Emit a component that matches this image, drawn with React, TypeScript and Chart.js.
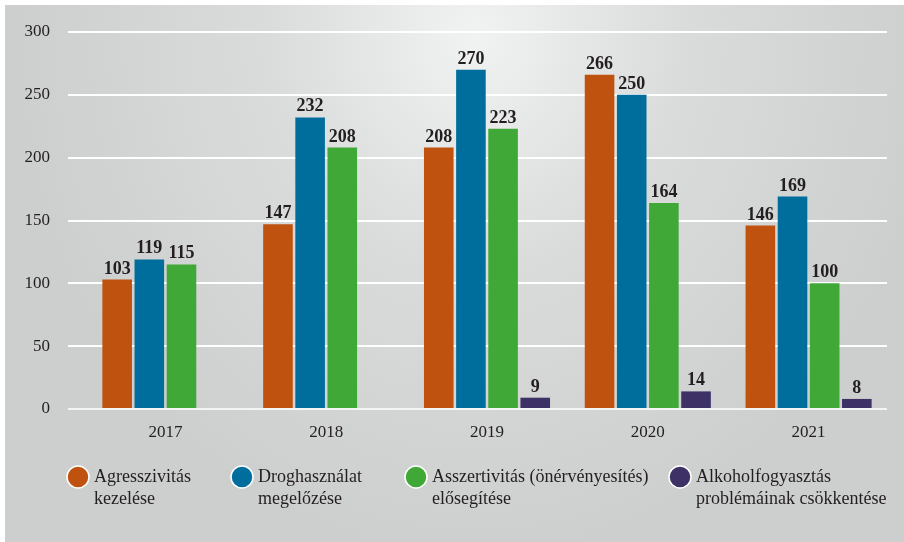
import React, { useEffect, useRef } from "react";
import { Chart, registerables } from "chart.js";

Chart.register(...registerables);

const categories = ["2017", "2018", "2019", "2020", "2021"];
const agresszivitas = [103, 147, 208, 266, 146];
const droghasznalat = [119, 232, 270, 250, 169];
const asszertivitas = [115, 208, 223, 164, 100];
const alkohol = [null, null, 9, 14, 8];

const seriesLabels = [
  ["Agresszivitás", "kezelése"],
  ["Droghasználat", "megelőzése"],
  ["Asszertivitás (önérvényesítés)", "elősegítése"],
  ["Alkoholfogyasztás", "problémáinak csökkentése"],
];
const colors = ["#BE520E", "#006E9C", "#40A837", "#3D3166"];

const SERIF = "'Liberation Serif', 'Times New Roman', serif";
const TEXT = "#231F20";

const gridPlugin = {
  id: "customGrid",
  beforeDatasetsDraw(chart: any) {
    const { ctx, chartArea, scales } = chart;
    const y = scales.y;
    ctx.save();
    ctx.strokeStyle = "#FFFFFF";
    ctx.lineWidth = 2;
    y.ticks.forEach((t: any) => {
      if (t.value === 0) return;
      const py = Math.round(y.getPixelForValue(t.value));
      ctx.beginPath();
      ctx.moveTo(chartArea.left - 17, py);
      ctx.lineTo(chartArea.right - 2, py);
      ctx.stroke();
    });
    ctx.restore();
  },
  afterDatasetsDraw(chart: any) {
    const { ctx, chartArea, scales } = chart;
    const y = scales.y;
    ctx.save();
    ctx.strokeStyle = "#F4F4F4";
    ctx.lineWidth = 2;
    const py = Math.round(y.getPixelForValue(0));
    ctx.beginPath();
    ctx.moveTo(chartArea.left - 17, py);
    ctx.lineTo(chartArea.right - 2, py);
    ctx.stroke();

    // value labels
    ctx.fillStyle = TEXT;
    ctx.font = `bold 18px ${SERIF}`;
    ctx.textAlign = "center";
    ctx.textBaseline = "alphabetic";
    chart.data.datasets.forEach((ds: any, i: number) => {
      const meta = chart.getDatasetMeta(i);
      meta.data.forEach((el: any, j: number) => {
        const v = ds.data[j];
        if (v === null || v === undefined) return;
        ctx.fillText(String(v), el.x, el.y - 6);
      });
    });
    ctx.restore();
  },
  afterDraw(chart: any) {
    const { ctx } = chart;
    const xs = [78, 242, 416, 680];
    const cy = 477;
    ctx.save();
    ctx.font = `18px ${SERIF}`;
    ctx.textAlign = "left";
    ctx.textBaseline = "alphabetic";
    chart.data.datasets.forEach((ds: any, i: number) => {
      const cx = xs[i];
      ctx.beginPath();
      ctx.arc(cx, cy, 11, 0, Math.PI * 2);
      ctx.fillStyle = ds.backgroundColor;
      ctx.fill();
      ctx.lineWidth = 1.5;
      ctx.strokeStyle = "#FFFFFF";
      ctx.stroke();
      ctx.fillStyle = TEXT;
      const lines = seriesLabels[i];
      lines.forEach((ln, k) => {
        ctx.fillText(ln, cx + 16, cy + 5 + k * 22);
      });
    });
    ctx.restore();
  },
};

export default function App() {
  const ref = useRef<HTMLCanvasElement | null>(null);
  useEffect(() => {
    if (!ref.current) return;
    const chart = new Chart(ref.current, {
      type: "bar",
      data: {
        labels: categories,
        datasets: [
          { label: seriesLabels[0].join(" "), data: agresszivitas, backgroundColor: colors[0] },
          { label: seriesLabels[1].join(" "), data: droghasznalat, backgroundColor: colors[1] },
          { label: seriesLabels[2].join(" "), data: asszertivitas, backgroundColor: colors[2] },
          { label: seriesLabels[3].join(" "), data: alkohol as any, backgroundColor: colors[3] },
        ],
      },
      options: {
        responsive: false,
        animation: false,
        datasets: {
          bar: { categoryPercentage: 0.8, barPercentage: 0.92 },
        },
        layout: { padding: { top: 32, left: 5, right: 15, bottom: 100 } },
        plugins: {
          legend: { display: false },
          tooltip: { enabled: false },
        },
        scales: {
          x: {
            grid: { display: false, drawTicks: false },
            border: { display: false },
            ticks: { color: TEXT, font: { family: SERIF, size: 17 }, padding: 13 },
            afterFit(scale: any) {
              scale.height = 33;
              scale.paddingLeft = 0;
              scale.paddingRight = 0;
            },
          },
          y: {
            min: 0,
            max: 300,
            grid: { display: false, drawTicks: false },
            border: { display: false },
            ticks: { stepSize: 50, color: TEXT, font: { family: SERIF, size: 17 }, padding: 35 },
            afterFit(scale: any) {
              scale.width = 80;
              scale.paddingTop = 0;
              scale.paddingBottom = 0;
            },
          },
        },
      },
      plugins: [gridPlugin],
    });
    return () => chart.destroy();
  }, []);

  return (
    <div style={{ position: "absolute", left: 0, top: 0, width: 904, height: 542, background: "#FFFFFF", overflow: "hidden" }}>
      <div
        style={{
          position: "absolute",
          left: 5,
          top: 5,
          right: 0,
          bottom: 0,
          background: "radial-gradient(ellipse 460px 520px at 470px 30px, #F1F2F2 0%, #DADBDB 45%, #CDCECE 100%)",
        }}
      />
      <canvas ref={ref} width={904} height={542} style={{ position: "absolute", left: 0, top: 0 }} />
    </div>
  );
}
